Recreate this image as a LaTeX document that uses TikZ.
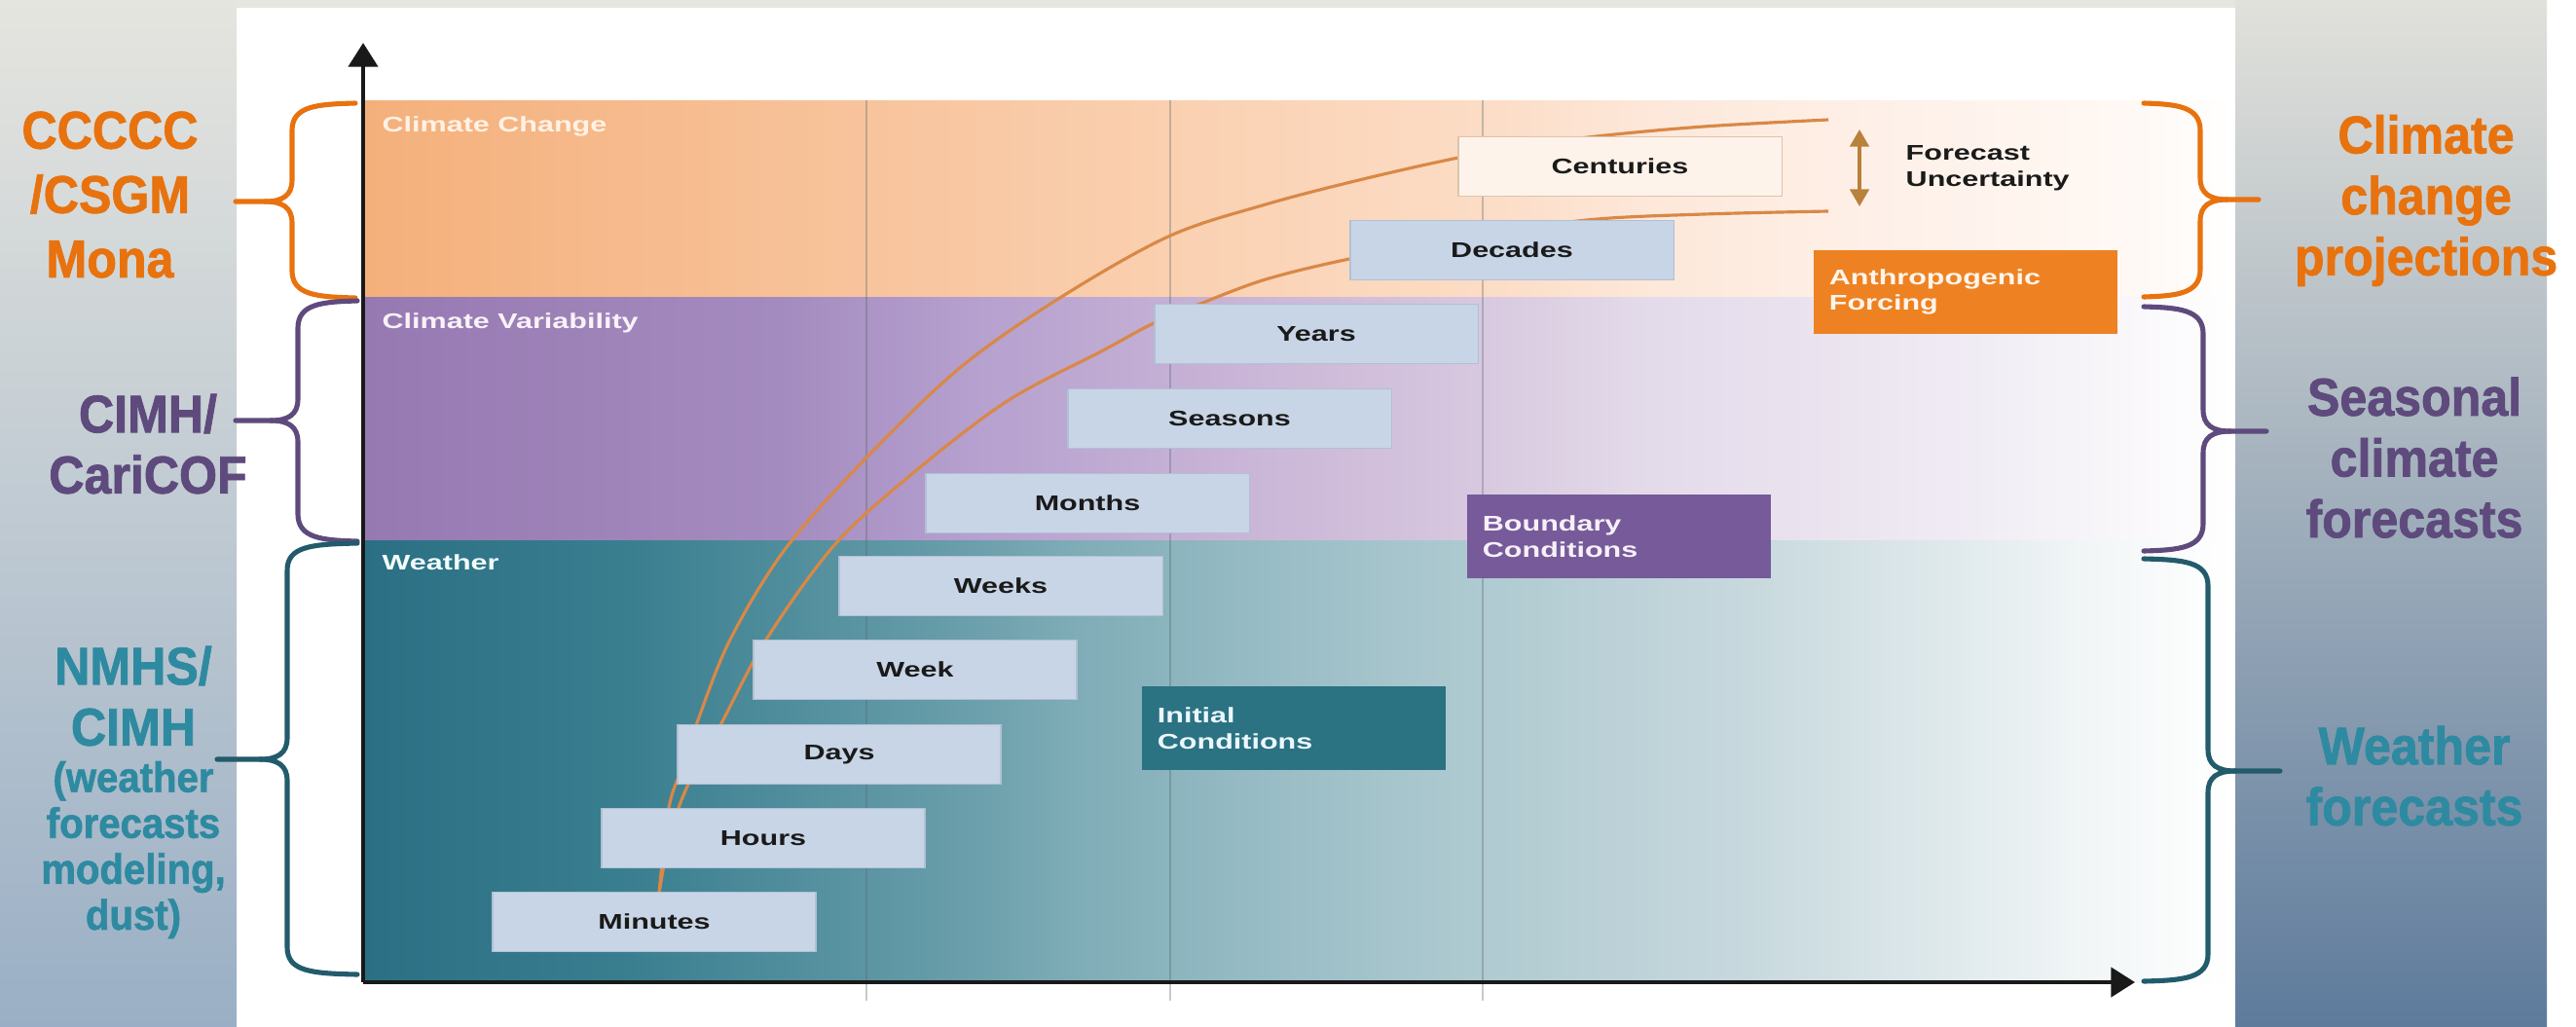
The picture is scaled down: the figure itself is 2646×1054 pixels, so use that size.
\documentclass[tikz,border=0pt]{standalone}
\usepackage{fontspec}
\setmainfont{Liberation Sans}
\newfontfamily\chartfont[FakeStretch=1.4]{Liberation Sans}
\newfontfamily\sidefont[FakeStretch=0.92,FakeBold=1.4]{Liberation Sans}
\usetikzlibrary{arrows.meta}

\definecolor{lpTop}{HTML}{E5E5DF}
\definecolor{lpBot}{HTML}{9AAFC5}
\definecolor{rpTop}{HTML}{E1E1DB}
\definecolor{rpBot}{HTML}{5E7B9C}
\definecolor{stripC}{HTML}{E6E6E0}
\definecolor{orangeT}{HTML}{E8720E}
\definecolor{purpleT}{HTML}{5E4A7C}
\definecolor{tealT}{HTML}{2E8AA0}
\definecolor{tealB}{HTML}{225B6B}
\definecolor{boxfill}{HTML}{C8D5E6}
\definecolor{boxline}{HTML}{B2C0D4}
\definecolor{centfill}{HTML}{FDF3EA}
\definecolor{centline}{HTML}{DCC4AC}
\definecolor{boxtext}{HTML}{1A1A1A}
\definecolor{curveC}{HTML}{D98847}
\definecolor{uncC}{HTML}{B8813C}
\definecolor{anthC}{HTML}{EE8223}
\definecolor{bndC}{HTML}{765A9A}
\definecolor{iniC}{HTML}{2B7282}
\definecolor{gridC}{HTML}{5A6A70}
% band colours
\definecolor{oA}{HTML}{F4B07B}
\definecolor{oB}{HTML}{F8C49D}
\definecolor{oC}{HTML}{FAD0B0}
\definecolor{oD}{HTML}{FCDCC5}
\definecolor{oE}{HTML}{FDE8DA}
\definecolor{oF}{HTML}{FEEFE6}
\definecolor{oG}{HTML}{FFF9F5}
\definecolor{pA}{HTML}{9679B1}
\definecolor{pB}{HTML}{A48BBF}
\definecolor{pC}{HTML}{B5A0CF}
\definecolor{pD}{HTML}{C8B3D6}
\definecolor{pE}{HTML}{D6C6DE}
\definecolor{pF}{HTML}{E4DBEA}
\definecolor{pG}{HTML}{EFEAF3}
\definecolor{pH}{HTML}{FAF8FB}
\definecolor{tA}{HTML}{2A6F83}
\definecolor{tB}{HTML}{3A7F90}
\definecolor{tC}{HTML}{6B9FAB}
\definecolor{tD}{HTML}{7EACB6}
\definecolor{tE}{HTML}{98BCC5}
\definecolor{tF}{HTML}{ADC9D0}
\definecolor{tG}{HTML}{C8D9DE}
\definecolor{tH}{HTML}{DFE9EC}
\definecolor{tI}{HTML}{F2F6F7}

\pgfdeclarehorizontalshading{orangeband}{100bp}{color(0bp)=(oA); color(25bp)=(oA); color(38.7bp)=(oB); color(46.5bp)=(oC); color(54.8bp)=(oD); color(59.5bp)=(oE); color(64.7bp)=(oF); color(72.5bp)=(oG); color(75bp)=(white); color(100bp)=(white)}
\pgfdeclarehorizontalshading{purpleband}{100bp}{color(0bp)=(pA); color(25bp)=(pA); color(36.1bp)=(pB); color(41.3bp)=(pC); color(47.8bp)=(pD); color(54.3bp)=(pE); color(59.5bp)=(pF); color(67.3bp)=(pG); color(72.5bp)=(pH); color(75bp)=(white); color(100bp)=(white)}
\pgfdeclarehorizontalshading{tealband}{100bp}{color(0bp)=(tA); color(25bp)=(tA); color(32.2bp)=(tB); color(41.3bp)=(tC); color(43.9bp)=(tD); color(49.1bp)=(tE); color(54.3bp)=(tF); color(62.1bp)=(tG); color(67.3bp)=(tH); color(71.2bp)=(tI); color(75bp)=(white); color(100bp)=(white)}

% brace: #1 style, #2 end x, #3 spine x, #4 tip x, #5 top y, #6 mid y, #7 bottom y, #8 direction (1 or (-1))
\newcommand{\mybrace}[8]{%
  \draw[#1] (#2,#5) .. controls ({#3+25*#8},{#5+1}) and (#3,{#5+3}) .. (#3,{#5+28})
    -- (#3,{#6-22}) .. controls (#3,{#6-6}) and ({#3-10*#8},#6) .. ({#3-28*#8},#6) -- (#4,#6);
  \draw[#1] ({#3-28*#8},#6) .. controls ({#3-10*#8},#6) and (#3,{#6+6}) .. (#3,{#6+22})
    -- (#3,{#7-28}) .. controls (#3,{#7-3}) and ({#3+25*#8},{#7-1}) .. (#2,#7);
}

\begin{document}
\begin{tikzpicture}[x=0.01cm,y=-0.01cm,
  chartfnt/.style={font=\chartfont\bfseries\fontsize{6.2}{7.6}\selectfont},
  tbox/.style={chartfnt, draw=boxline, fill=boxfill, line width=0.35pt,
    minimum width=3.32cm, minimum height=0.61cm, inner sep=0pt, text=boxtext},
  cbox/.style={chartfnt, minimum height=0.86cm, inner xsep=0.16cm, inner ysep=0pt,
    text width=2.8cm, align=left, text=white},
  bandlab/.style={chartfnt, anchor=base west, inner sep=0pt, text=white},
  sidelab/.style={align=center, inner sep=0pt},
  sidefnt/.style={font=\sidefont\bfseries\fontsize{15.5}{17.8}\selectfont},
  curvec/.style={draw=curveC, line width=0.9pt},
  gridl/.style={draw=gridC, line width=0.35pt, opacity=0.35},
  axisl/.style={draw=black!90, line width=1.3pt, -{Triangle[length=7pt,width=8.5pt]}},
  bracestyle/.style={line width=1.45pt, line cap=round}
]
\useasboundingbox (0,0) rectangle (2646,1054);
\fill[white] (0,0) rectangle (2646,1054);
% side panels
\shade[top color=lpTop, bottom color=lpBot] (0,0) rectangle (243,1054);
\shade[top color=rpTop, bottom color=rpBot] (2296,0) rectangle (2616,1054);
\fill[stripC] (243,0) rectangle (2296,8);

% bands
\shade[shading=orangeband] (373,103) rectangle (2295,305);
\shade[shading=purpleband] (373,305) rectangle (2295,555);
\shade[shading=tealband] (373,555) rectangle (2295,1009);

% grid lines
\draw[gridl] (890,103) -- (890,1028);
\draw[gridl] (1202,103) -- (1202,1028);
\draw[gridl] (1523,103) -- (1523,1028);

% curves
\draw[curvec] plot[smooth, tension=0.55] coordinates {(677,917) (687,830) (700,790) (715,745) (750,657) (808,562) (893,467) (987,377) (1087,307) (1200,243) (1300,210) (1400,184) (1498,162) (1570,150) (1640,140) (1750,130) (1878,123)};
\draw[curvec] plot[smooth, tension=0.55] coordinates {(677,917) (688,860) (705,810) (740,745) (787,657) (857,560) (933,490) (1033,413) (1133,360) (1183,333) (1233,312) (1300,287) (1386,266) (1500,245) (1630,226) (1750,220) (1878,217)};

% time-scale boxes
\node[tbox] (minutes) at (672,947) {Minutes};
\node[tbox] (hours) at (784,861) {Hours};
\node[tbox] (days) at (862,775) {Days};
\node[tbox] (week) at (940,688) {Week};
\node[tbox] (weeks) at (1028,602) {Weeks};
\node[tbox] (months) at (1117,517) {Months};
\node[tbox] (seasons) at (1263,430) {Seasons};
\node[tbox] (years) at (1352,343) {Years};
\node[tbox] (decades) at (1553,257) {Decades};
\node[tbox, fill=centfill, draw=centline] (centuries) at (1664,171) {Centuries};

% coloured boxes
\node[cbox, fill=anthC, text=white!92!orange] (anth) at (2019,300) {Anthropogenic\\Forcing};
\node[cbox, fill=bndC, text=white!94!violet] (bound) at (1663,551) {Boundary\\Conditions};
\node[cbox, fill=iniC, text=white!92!cyan] (init) at (1329,748) {Initial\\Conditions};

% forecast uncertainty
\coordinate (fuTop) at (1910,133);
\coordinate (fuBot) at (1910,212);
\draw[draw=uncC, line width=1pt, {Triangle[length=5pt,width=5.5pt]}-{Triangle[length=5pt,width=5.5pt]}] (fuTop) -- (fuBot);
\node[chartfnt, anchor=west, align=left, inner sep=0pt, text=boxtext] (fu) at (1957,173) {Forecast\\Uncertainty};

% band labels
\node[bandlab, text=white!90!orange] (lcc) at (392,135) {Climate Change};
\node[bandlab, text=white!95!violet] (lcv) at (392,337) {Climate Variability};
\node[bandlab, text=white!95!cyan] (lw) at (392,585) {Weather};

% axes
\coordinate (origin) at (373,1009);
\coordinate (ytop) at (373,44);
\coordinate (xend) at (2193,1009);
\draw[axisl] (origin) -- (ytop);
\draw[axisl] (origin) -- (xend);

% left braces
\mybrace{bracestyle, draw=orangeT}{365}{300}{242}{106}{207}{306}{1}
\mybrace{bracestyle, draw=purpleT}{367}{306}{242}{309}{432}{556}{1}
\mybrace{bracestyle, draw=tealB}{367}{295}{223}{558}{780}{1001}{1}
% right braces
\mybrace{bracestyle, draw=orangeT}{2202}{2260}{2320}{106}{205}{305}{(-1)}
\mybrace{bracestyle, draw=purpleT}{2202}{2263}{2328}{315}{443}{566}{(-1)}
\mybrace{bracestyle, draw=tealB}{2202}{2268}{2342}{574}{792}{1008}{(-1)}

% side labels
\node[sidelab, text=orangeT, font=\sidefont\bfseries\fontsize{15.5}{18.8}\selectfont] (lorg) at (113,200) {CCCCC\\/CSGM\\Mona};
\node[sidelab, sidefnt, text=purpleT] (lpur) at (152,456) {CIMH/\\CariCOF};
\node[sidelab, sidefnt, text=tealT] (ltea) at (137,715) {NMHS/\\CIMH};
\node[sidelab, text=tealT, font=\sidefont\bfseries\fontsize{12.4}{13.4}\selectfont] (ltea2) at (137,873) {(weather\\forecasts\\modeling,\\dust)};

\node[sidelab, sidefnt, text=orangeT] (rorg) at (2492,206) {Climate\\change\\projections};
\node[sidelab, sidefnt, text=purpleT] (rpur) at (2480,470) {Seasonal\\climate\\forecasts};
\node[sidelab, sidefnt, text=tealT] (rtea) at (2480,797) {Weather\\forecasts};
\end{tikzpicture}
\end{document}
